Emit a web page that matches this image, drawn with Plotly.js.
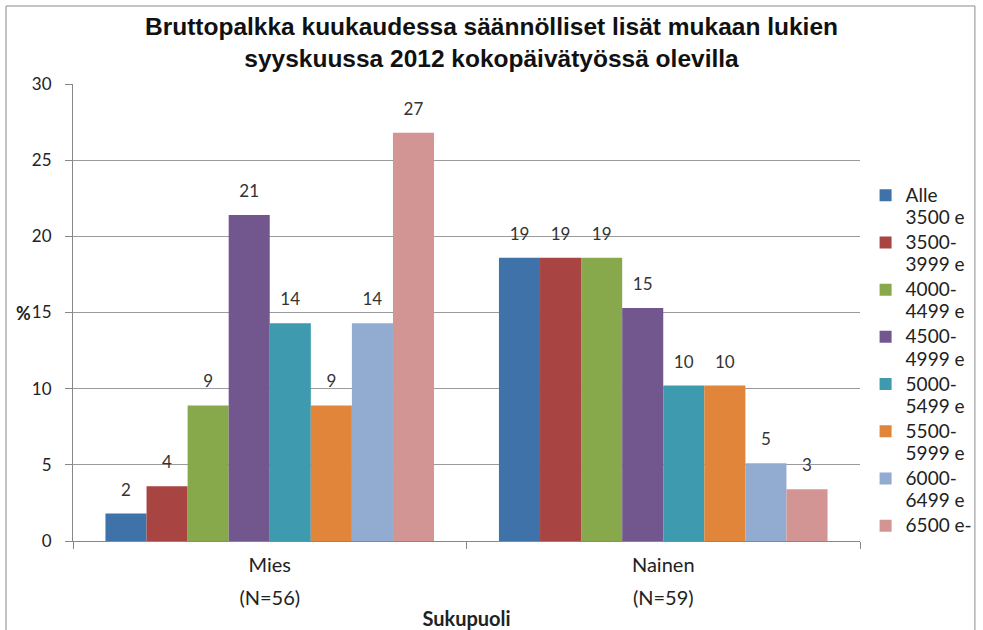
<!DOCTYPE html>
<html><head><meta charset="utf-8">
<script src="https://cdn.plot.ly/plotly-3.0.1.min.js"></script>
<style>body{margin:0;background:#fff}#chart{width:983px;height:630px}</style>
</head><body><div id="chart"></div>
<script>
const categories = ["Mies<br>(N=56)", "Nainen<br>(N=59)"];
const seriesNames = ["Alle<br>3500 e", "3500-<br>3999 e", "4000-<br>4499 e", "4500-<br>4999 e", "5000-<br>5499 e", "5500-<br>5999 e", "6000-<br>6499 e", "6500 e-"];
const alle3500 = [1.8, 18.6];
const s3500 = [3.6, 18.6];
const s4000 = [8.9, 18.6];
const s4500 = [21.4, 15.3];
const s5000 = [14.3, 10.2];
const s5500 = [8.9, 10.2];
const s6000 = [14.3, 5.1];
const s6500 = [26.8, 3.4];
const seriesValues = [alle3500, s3500, s4000, s4500, s5000, s5500, s6000, s6500];
const colors = ["#3F72A8", "#A84441", "#88A84C", "#72578F", "#3D9AAF", "#E0853A", "#92ABD1", "#D39494"];
const yTicks = [0, 5, 10, 15, 20, 25, 30];

const font = "Lato, 'Open Sans', sans-serif";
const sized = px => s => "<span style='font-size:" + px + "px'>" + s.split("<br>").join("</span><br><span style='font-size:" + px + "px'>") + "</span>";

const traces = seriesNames.map((n, i) => ({
  type: "bar", name: sized(19)(n), x: categories, y: seriesValues[i],
  marker: {color: colors[i]},
  texttemplate: "<span style='font-size:17px'>%{y:.0f}</span><br> ", textposition: "outside", cliponaxis: false,
  textfont: {family: font, size: 10, color: "#333"}
}));

const layout = {
  width: 983, height: 630,
  margin: {l: 73, r: 123, t: 84, b: 89, autoexpand: false},
  paper_bgcolor: "#fff", plot_bgcolor: "#fff",
  barmode: "group", bargap: 0.165, bargroupgap: 0,
  title: {text: "Bruttopalkka kuukaudessa säännölliset lisät mukaan lukien<br>syyskuussa 2012 kokopäivätyössä olevilla",
    font: {family: "'Liberation Sans', Arial, sans-serif", size: 24.5, color: "#111", weight: "bold"},
    x: 0.5, xanchor: "center", y: 0.945, yanchor: "top"},
  xaxis: {
    tickson: "boundaries", ticks: "outside", ticklen: 7, tickcolor: "#888",
    tickvals: categories, ticktext: categories.map(sized(20)),
    showline: true, linecolor: "#888", linewidth: 1,
    tickfont: {family: font, size: 25, color: "#222"}, ticklabelstandoff: 0,
    title: {text: "Sukupuoli", font: {family: font, size: 20, color: "#222", weight: "bold"}, standoff: 8}
  },
  yaxis: {
    range: [0, 30], tickvals: yTicks, ticktext: yTicks.map(String),
    ticks: "outside", ticklen: 7, tickcolor: "#888", ticklabelstandoff: 10,
    showline: true, linecolor: "#888", linewidth: 1,
    showgrid: true, gridcolor: "#9a9a9a", gridwidth: 1, zeroline: false,
    tickfont: {family: font, size: 17, color: "#222"}, automargin: false
  },
  legend: {x: 1.0071, xanchor: "left", y: 0.795, yanchor: "top", valign: "top",
    font: {family: font, size: 17, color: "#222"}, tracegroupgap: 0, itemwidth: 20,
    bgcolor: "rgba(0,0,0,0)"},
  annotations: [{text: "<b>%</b>", xref: "paper", yref: "paper", x: -0.0508, y: 0.499,
    xanchor: "right", yanchor: "middle", showarrow: false,
    font: {family: font, size: 18, color: "#222"}}],
  shapes: [{type: "rect", xref: "paper", yref: "paper", x0: -0.0851, x1: 1.146, y0: -0.25, y1: 1.1707,
    line: {color: "#8a8a8a", width: 1}, fillcolor: "rgba(0,0,0,0)", layer: "below"}]
};
Plotly.newPlot("chart", traces, layout, {displayModeBar: false});
</script></body></html>
